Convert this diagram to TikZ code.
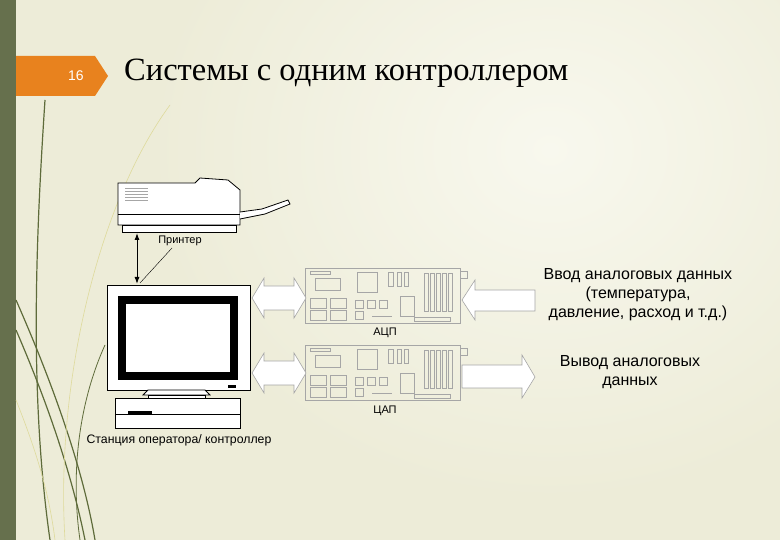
\documentclass[tikz,border=0pt]{standalone}
\usepackage{fontspec}
\usetikzlibrary{arrows.meta}
\setmainfont{Liberation Sans}
\newfontfamily\serifru{Liberation Serif}
\definecolor{bgc}{HTML}{EDECD8}
\definecolor{bgl}{HTML}{F8F8EE}
\definecolor{barc}{HTML}{66704D}
\definecolor{tabc}{HTML}{E8821E}
\definecolor{grc}{HTML}{5E6B3A}
\begin{document}
\begin{tikzpicture}[x=1pt,y=-1pt,
  gl/.style={draw=gray!70,line width=0.6pt},
  bk/.style={draw=black,line width=0.8pt},
  lbl/.style={font=\fontsize{11}{13}\selectfont,inner sep=0pt},
  big/.style={font=\fontsize{16}{19}\selectfont,align=center,inner sep=0pt}]
\useasboundingbox (0,0) rectangle (780,540);
\fill[bgc] (0,0) rectangle (780,540);
\shade[inner color=bgl, outer color=bgc] (150,-200) rectangle (950,500);
\fill[barc] (0,0) rectangle (16,540);
% green curves
\begin{scope}[draw=grc,line width=1.2pt]
\draw (45,100) .. controls (35,250) and (30,400) .. (50,540);
\draw (16,300) .. controls (60,400) and (85,480) .. (95,540);
\draw (16,330) .. controls (55,420) and (75,490) .. (85,540);
\draw[line width=0.8pt] (105,345) .. controls (80,400) and (70,470) .. (80,540);
\draw[draw=olive!30,line width=0.6pt] (170,105) .. controls (100,200) and (55,380) .. (65,540);
\draw[draw=olive!30,line width=0.6pt] (16,400) .. controls (40,460) and (50,500) .. (55,540);
\end{scope}
% tab
\fill[tabc] (16,56) -- (95,56) -- (108,76) -- (95,96) -- (16,96) -- cycle;
\node[text=white,font=\fontsize{14}{16}\selectfont] (num) at (76,76) {16};
\node[font=\serifru\fontsize{32.5}{36}\selectfont,anchor=west,inner sep=0pt] (title) at (124,73) {Системы с одним контроллером};
% printer
\draw[bk,fill=white] (118,183) -- (195,183) -- (200,178) -- (228,180) -- (240,190) -- (240,225) -- (118,225) -- cycle;
\draw[bk,fill=white] (240,212) -- (262,209) -- (288,200) -- (290,204) -- (265,214) -- (240,219);
\draw[bk] (118,214) -- (240,214);
\draw[bk,fill=white] (122,225) rectangle (236,232);
\foreach \yy in {188,191,194,197,200}{\draw[gray!70,line width=0.5pt] (125,\yy) -- (148,\yy);}
\coordinate (pr) at (137,233);
\coordinate (mo) at (137,284);
\draw[line width=1pt,{Latex[length=7pt,width=5pt]}-{Latex[length=7pt,width=5pt]}] (pr) -- (mo);
\node[lbl] (plab) at (180,241) {Принтер};
\coordinate (lead) at (172,248);
\draw[line width=0.4pt] (lead) -- (140,283);
% monitor
\draw[bk,fill=white] (107,285) rectangle (250,390);
\draw[draw=black,line width=8pt,fill=white] (122,300) rectangle (234,376);
\fill (230,297) rectangle (234,301);
\fill (228,385) rectangle (236,388);
\draw[bk,fill=white] (148,390) -- (205,390) -- (210,395) -- (143,395) -- cycle;
\draw[bk,fill=white] (148,395) rectangle (205,398);
\draw[bk,fill=white] (115,398) rectangle (240,428);
\draw[bk] (115,414) -- (240,414);
\fill (128,411) rectangle (152,414);
\node[lbl,font=\fontsize{12.3}{14}\selectfont] (slab) at (179,440) {Станция оператора/ контроллер};
% boards
\foreach \by/\name in {268/adc,345/dac}{
 \begin{scope}[shift={(0,\by)}]
 \draw[gl] (305,0) rectangle (460,55);
 \draw[gl] (460,3) rectangle (467,10);
 \draw[gl] (310,3) rectangle (330,6);
 \draw[gl] (315,10) rectangle (340,22);
 \draw[gl] (310,30) rectangle (326,40); \draw[gl] (330,30) rectangle (346,40);
 \draw[gl] (310,42) rectangle (326,52); \draw[gl] (330,42) rectangle (346,52);
 \draw[gl] (357,4) rectangle (377,24);
 \draw[gl] (388,4) rectangle (393,18); \draw[gl] (397,4) rectangle (401,18); \draw[gl] (404,4) rectangle (408,18);
 \draw[gl] (355,32) rectangle (363,40); \draw[gl] (367,32) rectangle (375,40); \draw[gl] (379,32) rectangle (387,40);
 \draw[gl] (355,43) rectangle (363,51);
 \draw[gl] (372,48) -- (392,48);
 \draw[gl] (400,28) rectangle (414,48);
 \foreach \sx in {424,430,436,442,448}{\draw[gl] (\sx,5) rectangle (\sx+4,43);}
 \draw[gl] (414,49) rectangle (450,53);
 \end{scope}}
\node[lbl] (adc) at (385,333) {АЦП};
\node[lbl] (dac) at (385,411) {ЦАП};
% double arrows
\foreach \ay in {298,373}{
 \draw[gl,fill=white] (252,\ay) -- (264,\ay-20) -- (264,\ay-12) -- (294,\ay-12) -- (294,\ay-20) -- (306,\ay) -- (294,\ay+20) -- (294,\ay+12) -- (264,\ay+12) -- (264,\ay+20) -- cycle;}
\draw[gl,fill=white] (462,300) -- (475,280) -- (475,290) -- (535,290) -- (535,311) -- (475,311) -- (475,320) -- cycle;
\draw[gl,fill=white] (535,377) -- (522,355) -- (522,365) -- (462,365) -- (462,388) -- (522,388) -- (522,398) -- cycle;
\node[big] (inlab) at (638,295) {Ввод аналоговых данных\\(температура,\\давление, расход и т.д.)};
\node[big] (outlab) at (630,372) {Вывод аналоговых\\данных};
\end{tikzpicture}
\end{document}
